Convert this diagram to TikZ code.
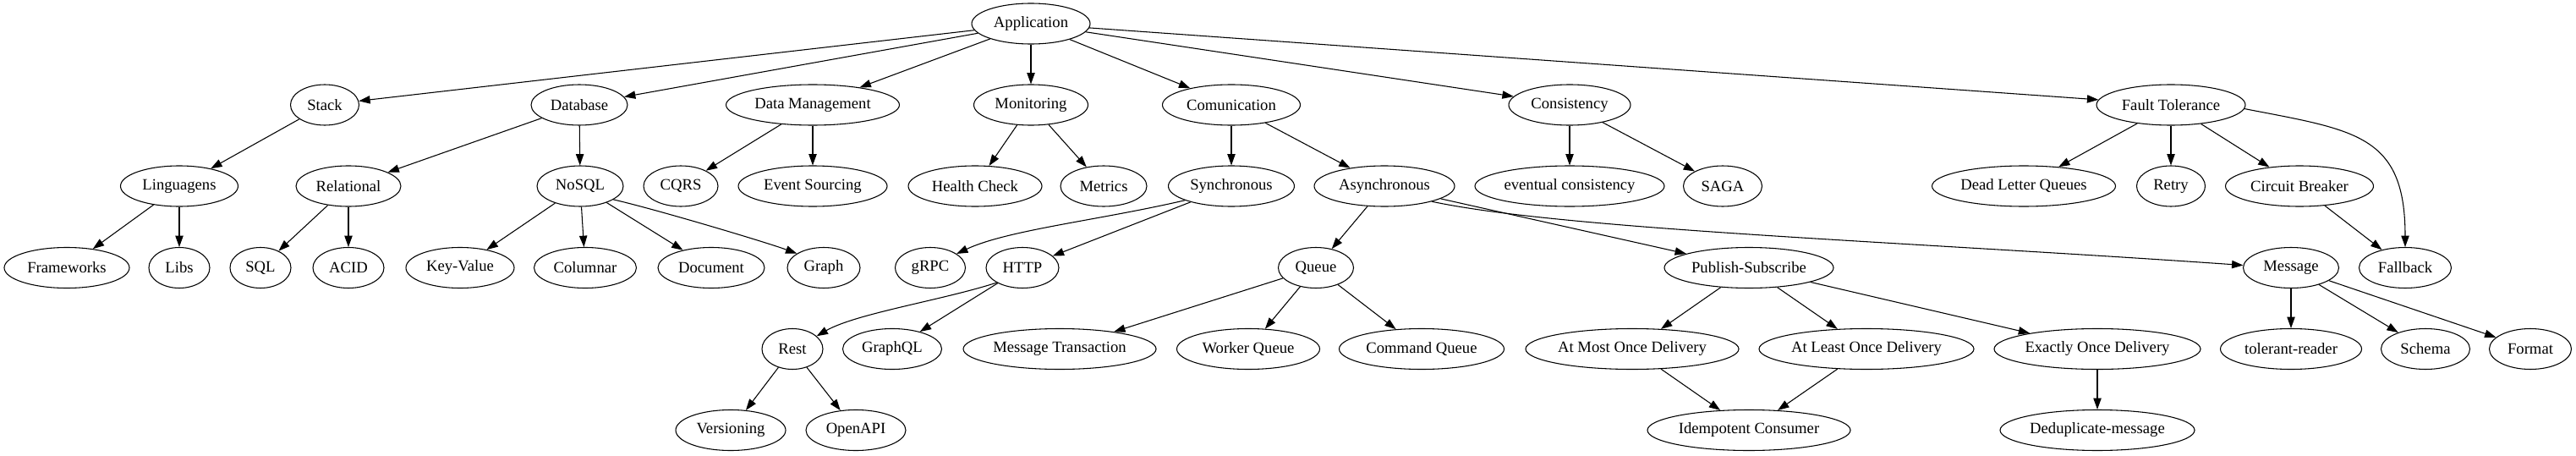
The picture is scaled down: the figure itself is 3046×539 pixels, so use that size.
\documentclass[tikz,border=0pt]{standalone}
\usepackage{fontspec}
\setmainfont{Liberation Serif}
\usetikzlibrary{shapes.geometric,arrows.meta}
\tikzset{
  nd/.style={draw, ellipse, line width=0.8pt, inner xsep=-12pt, inner ysep=0pt,
    minimum height=36pt, font=\fontsize{14}{16}\selectfont},
  wd/.style={minimum width=#1*0.75pt},
  arr/.style={draw, line width=0.8pt, -{Triangle[length=10pt,width=7pt]}},
}
\begin{document}
\begin{tikzpicture}[x=0.75pt,y=-0.75pt]
\useasboundingbox (0,0) rectangle (3046,539);
% row 0
\node[nd,wd=140] (app) at (1219,28) {Application};
% row 1
\node[nd,wd=81]  (stack) at (384,124) {Stack};
\node[nd,wd=114] (db) at (685,124) {Database};
\node[nd,wd=205] (dm) at (961,124) {Data Management};
\node[nd,wd=135] (mon) at (1219,124) {Monitoring};
\node[nd,wd=163] (com) at (1456,124) {Comunication};
\node[nd,wd=144] (cons) at (1856,124) {Consistency};
\node[nd,wd=176] (ft) at (2567,124) {Fault Tolerance};
% row 2
\node[nd,wd=139] (ling) at (212,220) {Linguagens};
\node[nd,wd=124] (rel) at (412,220) {Relational};
\node[nd,wd=102] (nosql) at (686,220) {NoSQL};
\node[nd,wd=88]  (cqrs) at (805,220) {CQRS};
\node[nd,wd=176] (es) at (961,220) {Event Sourcing};
\node[nd,wd=158] (hc) at (1153,220) {Health Check};
\node[nd,wd=102] (met) at (1305,220) {Metrics};
\node[nd,wd=149] (sync) at (1456,220) {Synchronous};
\node[nd,wd=166] (async) at (1637,220) {Asynchronous};
\node[nd,wd=224] (ev) at (1856,220) {eventual consistency};
\node[nd,wd=93]  (saga) at (2037,220) {SAGA};
\node[nd,wd=217] (dlq) at (2393,220) {Dead Letter Queues};
\node[nd,wd=81]  (retry) at (2567,220) {Retry};
\node[nd,wd=175] (cb) at (2719,220) {Circuit Breaker};
% row 3
\node[nd,wd=148] (fw) at (79,316.5) {Frameworks};
\node[nd,wd=72]  (libs) at (212,316.5) {Libs};
\node[nd,wd=72]  (sql) at (308,316.5) {SQL};
\node[nd,wd=84]  (acid) at (412,316.5) {ACID};
\node[nd,wd=128] (kv) at (544,316.5) {Key-Value};
\node[nd,wd=121] (col) at (692,316.5) {Columnar};
\node[nd,wd=126] (doc) at (841,316.5) {Document};
\node[nd,wd=86]  (graph) at (974,316.5) {Graph};
\node[nd,wd=83]  (grpc) at (1100,316.5) {gRPC};
\node[nd,wd=86]  (http) at (1209,316.5) {HTTP};
\node[nd,wd=89]  (queue) at (1556,316.5) {Queue};
\node[nd,wd=200] (ps) at (2068,316.5) {Publish-Subscribe};
\node[nd,wd=113] (msg) at (2709,316.5) {Message};
\node[nd,wd=109] (fb) at (2844,316.5) {Fallback};
% row 4
\node[nd,wd=72]  (rest) at (937,412.5) {Rest};
\node[nd,wd=117] (gql) at (1055,412.5) {GraphQL};
\node[nd,wd=228] (mt) at (1253,412.5) {Message Transaction};
\node[nd,wd=169] (wq) at (1476,412.5) {Worker Queue};
\node[nd,wd=195] (cq) at (1681,412.5) {Command Queue};
\node[nd,wd=252] (amo) at (1930,412.5) {At Most Once Delivery};
\node[nd,wd=254] (alo) at (2207,412.5) {At Least Once Delivery};
\node[nd,wd=244] (eo) at (2480,412.5) {Exactly Once Delivery};
\node[nd,wd=167] (tr) at (2709,412.5) {tolerant-reader};
\node[nd,wd=105] (schema) at (2868,412.5) {Schema};
\node[nd,wd=97]  (fmt) at (2992,412.5) {Format};
% row 5
\node[nd,wd=130] (ver) at (864,508.5) {Versioning};
\node[nd,wd=118] (oapi) at (1012,508.5) {OpenAPI};
\node[nd,wd=240] (ic) at (2068,508.5) {Idempotent Consumer};
\node[nd,wd=230] (dd) at (2480,508.5) {Deduplicate-message};
% edges
\foreach \t in {stack,db,dm,mon,com,cons,ft} \draw[arr] (app) -- (\t);
\draw[arr] (stack) -- (ling);
\draw[arr] (ling) -- (fw);
\draw[arr] (ling) -- (libs);
\draw[arr] (db) -- (rel);
\draw[arr] (db) -- (nosql);
\draw[arr] (rel) -- (sql);
\draw[arr] (rel) -- (acid);
\draw[arr] (nosql) -- (kv);
\draw[arr] (nosql) -- (col);
\draw[arr] (nosql) -- (doc);
\draw[arr] (nosql.-22) .. controls +(-13:40pt) and +(160:30pt) .. (graph.152);
\draw[arr] (dm) -- (cqrs);
\draw[arr] (dm) -- (es);
\draw[arr] (mon) -- (hc);
\draw[arr] (mon) -- (met);
\draw[arr] (com) -- (sync);
\draw[arr] (com) -- (async);
\draw[arr] (sync.197) .. controls +(193:80pt) and +(25:50pt) .. (grpc.28);
\draw[arr] (sync) -- (http);
\draw[arr] (http.210) .. controls +(198:50pt) and +(30:40pt) .. (rest.28);
\draw[arr] (http) -- (gql);
\draw[arr] (rest) -- (ver);
\draw[arr] (rest) -- (oapi);
\draw[arr] (async) -- (queue);
\draw[arr] (async) -- (ps);
\draw[arr] (async.-18) .. controls +(-12:120pt) and +(176:300pt) .. (msg.177);
\draw[arr] (queue) -- (mt);
\draw[arr] (queue) -- (wq);
\draw[arr] (queue) -- (cq);
\draw[arr] (ps) -- (amo);
\draw[arr] (ps) -- (alo);
\draw[arr] (ps) -- (eo);
\draw[arr] (amo) -- (ic);
\draw[arr] (alo) -- (ic);
\draw[arr] (eo) -- (dd);
\draw[arr] (msg) -- (tr);
\draw[arr] (msg) -- (schema);
\draw[arr] (msg) -- (fmt);
\draw[arr] (cons) -- (ev);
\draw[arr] (cons) -- (saga);
\draw[arr] (ft) -- (dlq);
\draw[arr] (ft) -- (retry);
\draw[arr] (ft) -- (cb);
\draw[arr] (ft.-3) .. controls +(-11:100pt) and +(90:100pt) .. (fb.north);
\draw[arr] (cb) -- (fb);
\end{tikzpicture}
\end{document}
